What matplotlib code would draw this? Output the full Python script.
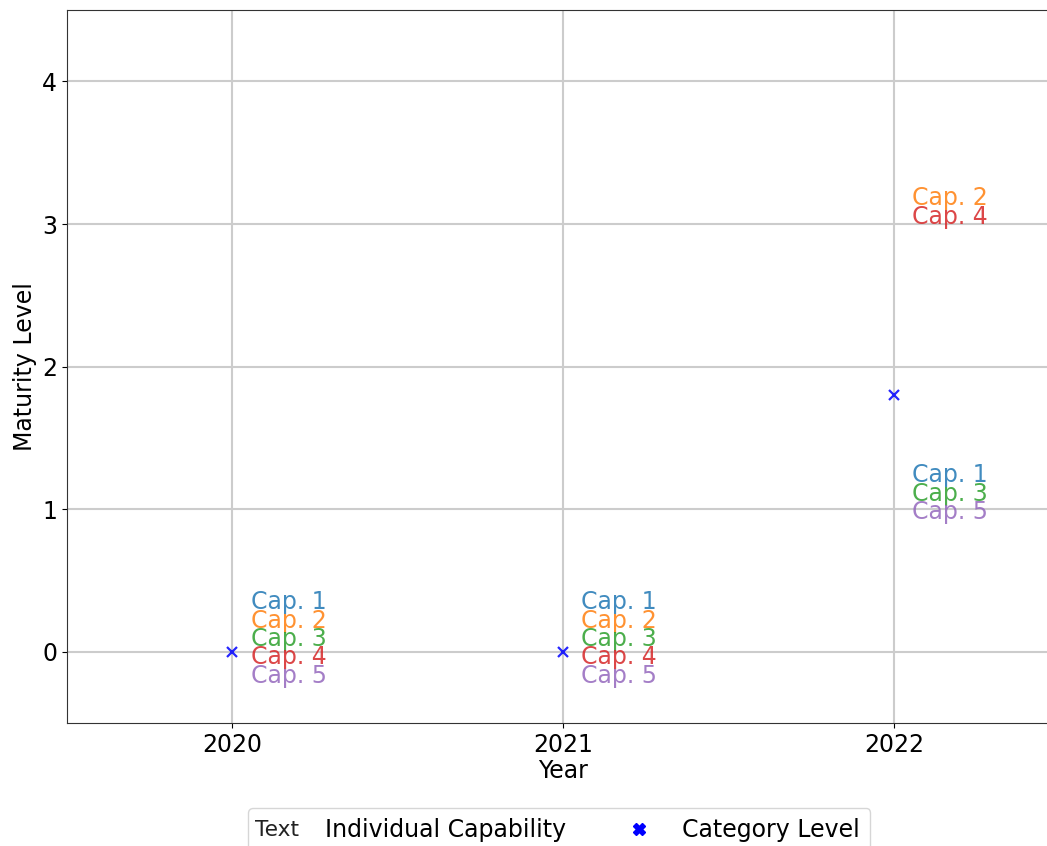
import matplotlib
matplotlib.use("Agg")
import matplotlib.pyplot as plt
from matplotlib.lines import Line2D
import matplotlib.text as mtext

years = [2020, 2021, 2022]
capabilities = ["Cap. 1", "Cap. 2", "Cap. 3", "Cap. 4", "Cap. 5"]
cap_levels = {
    2020: [0, 0, 0, 0, 0],
    2021: [0, 0, 0, 0, 0],
    2022: [1, 3, 1, 3, 1],
}
category_levels = [0.0, 0.0, 1.8]
cap_colors = ["#1f77b4", "#ff7f0e", "#2ca02c", "#d62728", "#9467bd"]

FS = 17
fig = plt.figure(figsize=(10.47, 8.46), dpi=100)
ax = fig.add_axes([0.064, 0.1454, 0.948, 0.8426])

ax.plot(years, category_levels, linestyle="none", marker="x", color="blue",
        markersize=7.5, mew=1.6, alpha=0.85, zorder=3)

x_off = 0.055
spacing = 0.129
for yr in years:
    levels = cap_levels[yr]
    groups = {}
    for i, lv in enumerate(levels):
        groups.setdefault(lv, []).append(i)
    for lv, idxs in groups.items():
        n = len(idxs)
        base = 0.085 - 0.009 * n
        for j, i in enumerate(idxs):
            y = lv + base + ((n - 1) / 2 - j) * spacing
            ax.text(yr + x_off, y, capabilities[i], color=cap_colors[i],
                    fontsize=FS, va="baseline", ha="left", alpha=0.85)

ax.set_xlim(2019.5, 2022.5)
ax.set_ylim(-0.5, 4.5)
ax.set_xticks(years)
ax.set_xticklabels([str(y) for y in years])
ax.set_yticks([0, 1, 2, 3, 4])
ax.tick_params(labelsize=FS)
ax.set_xlabel("Year", fontsize=FS, labelpad=2)
ax.set_ylabel("Maturity Level", fontsize=FS)
ax.grid(True, color="#cccccc", linewidth=1.5)
ax.set_axisbelow(True)
for s in ax.spines.values():
    s.set_color("#333333")


class TextHandle:
    pass


class TextHandler:
    def legend_artist(self, legend, orig_handle, fontsize, handlebox):
        x0, y0 = handlebox.xdescent, handlebox.ydescent
        t = mtext.Text(x0 - 3, y0 + 1, "Text", fontsize=fontsize * 0.92,
                       va="baseline", ha="left", color="#222222")
        handlebox.add_artist(t)
        return t


handles = [TextHandle(),
           Line2D([], [], linestyle="none", marker="X", color="blue",
                  markersize=9)]
labels = ["Individual Capability", "Category Level"]
ax.legend(handles, labels, handler_map={TextHandle: TextHandler()},
          loc="upper center", bbox_to_anchor=(0.496, -0.119),
          borderaxespad=0, ncol=2, fontsize=FS, borderpad=0.45,
          columnspacing=2.1)

fig.savefig("out.png", dpi=100)
